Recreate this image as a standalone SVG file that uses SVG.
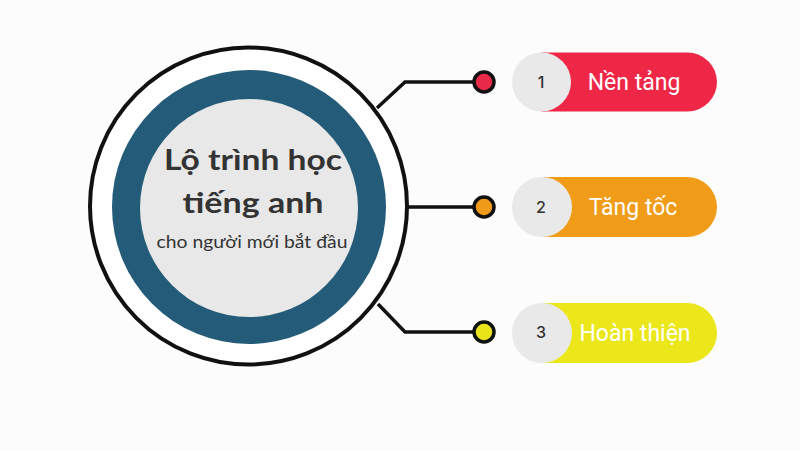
<svg xmlns="http://www.w3.org/2000/svg" width="800" height="450" viewBox="0 0 800 450">
<style>
.conn{fill:none;stroke:#111;stroke-width:3.5;stroke-linejoin:miter}
.dot{stroke:#111;stroke-width:3.5}
.num{font-family:Inter,"DejaVu Sans",sans-serif;font-size:16px;font-weight:500;fill:#333;text-anchor:middle;dominant-baseline:central}
.lbl{font-family:Roboto,"Open Sans",sans-serif;font-size:23px;fill:#fff;text-anchor:middle;dominant-baseline:central}
.t1{font-family:Lato,"Open Sans",sans-serif;font-weight:bold;fill:#333;text-anchor:middle}
.t2{font-family:Lato,"Open Sans",sans-serif;fill:#333;text-anchor:middle}
.chip{fill:#e9e9e9}
</style>
<rect width="800" height="450" fill="#fcfcfc"/>
<g id="connectors">
<polyline class="conn" points="377,108 405,82 484,82"/>
<polyline class="conn" points="406,207 484,207"/>
<polyline class="conn" points="378,304 405,332 484,332"/>
</g>
<g id="center">
<circle cx="248.5" cy="206" r="158.5" fill="#fff" stroke="#111" stroke-width="4"/>
<circle cx="249" cy="207" r="137" fill="#235b78"/>
<circle cx="249" cy="208" r="109" fill="#e8e8e8"/>
<text class="t1" x="253" y="170" font-size="28" textLength="178" lengthAdjust="spacingAndGlyphs">Lộ trình học</text>
<text class="t1" x="253" y="213" font-size="28" textLength="141" lengthAdjust="spacingAndGlyphs">tiếng anh</text>
<text class="t2" x="252" y="248" font-size="17" textLength="191" lengthAdjust="spacingAndGlyphs">cho người mới bắt đầu</text>
</g>
<g id="step1">
<circle class="dot" cx="484" cy="82" r="10" fill="#e8294a"/>
<path d="M541,52.5 H687.5 A29.5,29.5 0 0 1 687.5,111.5 H541 Z" fill="#ee2747"/>
<circle class="chip" cx="541.5" cy="82" r="29.5"/>
<text class="num" x="541" y="82">1</text>
<text class="lbl" x="634" y="82">Nền tảng</text>
</g>
<g id="step2">
<circle class="dot" cx="484" cy="207" r="10" fill="#f09a1a"/>
<path d="M541,177 H687 A30,30 0 0 1 687,237 H541 Z" fill="#f09c18"/>
<circle class="chip" cx="542" cy="207" r="30"/>
<text class="num" x="541" y="207">2</text>
<text class="lbl" x="633" y="207">Tăng tốc</text>
</g>
<g id="step3">
<circle class="dot" cx="484" cy="332" r="10" fill="#eae41a"/>
<path d="M541,303 H687 A30,30 0 0 1 687,363 H541 Z" fill="#ebe71a"/>
<circle class="chip" cx="542" cy="333" r="30"/>
<text class="num" x="541" y="332">3</text>
<text class="lbl" x="635" y="333">Hoàn thiện</text>
</g>
</svg>
